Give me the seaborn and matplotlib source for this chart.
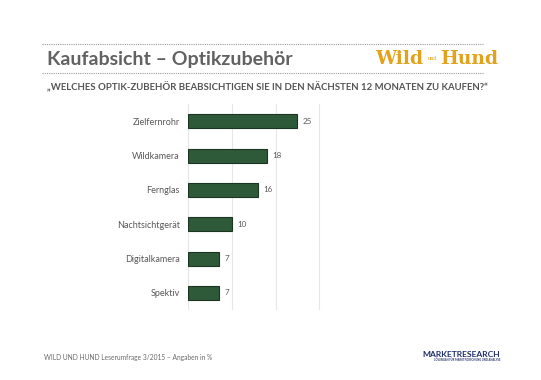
import matplotlib
matplotlib.use("Agg")
import matplotlib.pyplot as plt
import seaborn as sns
import pandas as pd
from matplotlib.lines import Line2D

categories = ["Zielfernrohr", "Wildkamera", "Fernglas", "Nachtsichtgerät", "Digitalkamera", "Spektiv"]
values = [25, 18, 16, 10, 7, 7]
x_ticks = [0, 10, 20, 30, 40]

title = "Kaufabsicht – Optikzubehör"
subtitle = "„WELCHES OPTIK-ZUBEHÖR BEABSICHTIGEN SIE IN DEN NÄCHSTEN 12 MONATEN ZU KAUFEN?“"
footer = "WILD UND HUND Leserumfrage 3/2015 – Angaben in %"

sns.set_theme(style="white")
plt.rcParams['font.family'] = ['Lato', 'DejaVu Sans']

df = pd.DataFrame({"cat": categories, "val": values})

fig = plt.figure(figsize=(5.41, 3.80), dpi=100)
ax = fig.add_axes([0.3475, 0.184, 0.3235, 0.542])

sns.barplot(data=df, x="val", y="cat", orient="h", color="#2f5a39",
            width=0.41, edgecolor="#1c3522", linewidth=0.8, saturation=1, ax=ax)

ax.set_xlim(0, 40)
ax.set_ylim(5.5, -0.5)
ax.set_xticks(x_ticks)
ax.set_xticklabels([])
ax.xaxis.grid(True, color="#e6e6e6", linewidth=0.8)
ax.set_axisbelow(True)
for s in ax.spines.values():
    s.set_visible(False)
ax.tick_params(axis="both", length=0)
ax.tick_params(axis="y", labelsize=6.5, labelcolor="#595959", pad=6)
ax.set_xlabel("")
ax.set_ylabel("")

for c in ax.containers:
    ax.bar_label(c, labels=[str(v) for v in values], padding=4, fontsize=5.8, color="#595959")

# header decorations
for yy in [0.884, 0.808]:
    fig.add_artist(Line2D([0.078, 0.892], [yy, yy], transform=fig.transFigure,
                          color="#9a9a9a", linewidth=0.8, linestyle=(0, (1, 1))))

fig.text(0.087, 0.843, title, fontsize=14, fontweight="bold", color="#626262",
         va="center", ha="left")
fig.text(0.693, 0.845, "Wild", fontsize=13.5, fontweight="bold", color="#e2a21a",
         va="center", ha="left", family=["DejaVu Serif"])
fig.text(0.799, 0.845, "und", fontsize=3.5, color="#e2a21a", va="center", ha="center",
         family=["DejaVu Serif"])
fig.text(0.921, 0.845, "Hund", fontsize=13.5, fontweight="bold", color="#e2a21a",
         va="center", ha="right", family=["DejaVu Serif"])

fig.text(0.087, 0.771, subtitle, fontsize=6.9, fontweight="bold", color="#555555",
         va="center", ha="left")

fig.text(0.082, 0.06, footer, fontsize=4.8, color="#6a6a6a", va="center", ha="left")
fig.text(0.925, 0.068, "MARKETRESEARCH", fontsize=6.1, fontweight="bold", color="#1f2f6b",
         va="center", ha="right")
fig.text(0.925, 0.053, "LÖSUNGEN FÜR MARKTFORSCHUNG UND ANALYSE", fontsize=1.9,
         fontweight="bold", color="#1f2f6b", va="center", ha="right")

fig.savefig("out.png", dpi=100)
